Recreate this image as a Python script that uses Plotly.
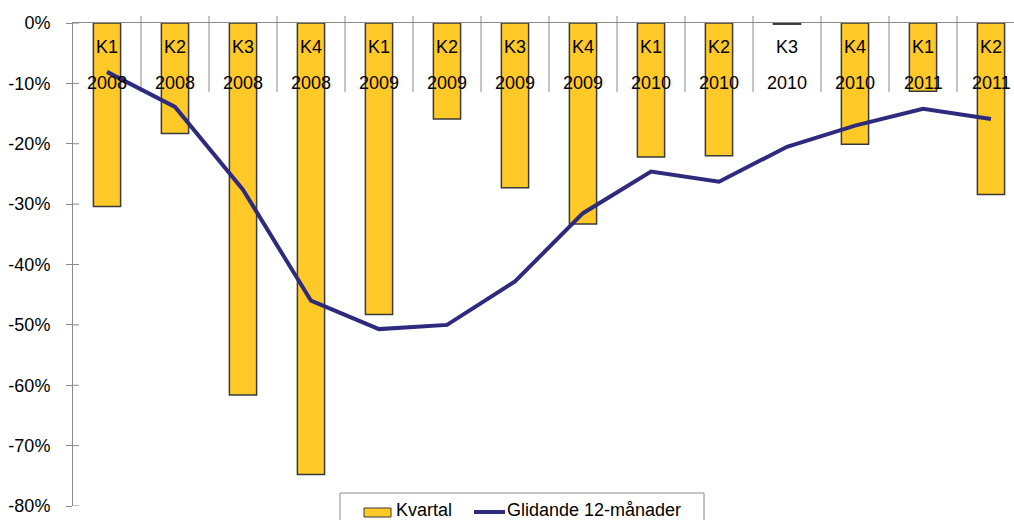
import plotly.graph_objects as go

quarters = ["K1", "K2", "K3", "K4", "K1", "K2", "K3", "K4", "K1", "K2", "K3", "K4", "K1", "K2"]
years = ["2008", "2008", "2008", "2008", "2009", "2009", "2009", "2009",
         "2010", "2010", "2010", "2010", "2011", "2011"]
kvartal = [-30.4, -18.3, -61.6, -74.8, -48.3, -15.9, -27.3, -33.3,
           -22.2, -22.0, -0.2, -20.1, -11.3, -28.4]
glidande = [-8.1, -13.9, -27.6, -46.0, -50.7, -50.0, -42.8, -31.5,
            -24.6, -26.3, -20.5, -17.0, -14.2, -15.9]
y_ticks = [0, -10, -20, -30, -40, -50, -60, -70, -80]
y_tick_labels = ["0%", "-10%", "-20%", "-30%", "-40%", "-50%", "-60%", "-70%", "-80%"]
series_names = ["Kvartal", "Glidande 12-månader"]

cats = [f"{q} {y}" for q, y in zip(quarters, years)]

W, H = 1014, 520
ML, MT, MB, MR = 73, 23, 14, 0
plot_h = H - MT - MB
plot_w = W - ML - MR
cat_px = 68.0
FONT = "Liberation Sans, Arial, sans-serif"
BAR_COLOR = "#FFCA28"
BAR_EDGE = "#3a3a3a"
LINE_COLOR = "#2E2A7E"
AXIS_COLOR = "#8a8a8a"


def py(px):
    return (H - MB - px) / plot_h


def px_(p):
    return (p - ML) / plot_w


fig = go.Figure()
fig.add_trace(go.Bar(
    x=cats, y=kvartal, name=series_names[0], width=0.4,
    marker=dict(color=BAR_COLOR, line=dict(color=BAR_EDGE, width=1.5)),
))
fig.add_trace(go.Scatter(
    x=cats, y=glidande, name=series_names[1], mode="lines",
    line=dict(color=LINE_COLOR, width=4),
))

shapes = []
# category boundary tick marks (cross the zero line)
for i in range(1, len(cats) + 1):
    shapes.append(dict(type="line", xref="x", yref="paper",
                       x0=i - 0.5, x1=i - 0.5, y0=py(16), y1=py(92),
                       line=dict(color=AXIS_COLOR, width=1), layer="below"))
# inside halves of the crossing y ticks
for v in y_ticks:
    shapes.append(dict(type="line", xref="paper", yref="y",
                       x0=0, x1=px_(79), y0=v, y1=v,
                       line=dict(color=AXIS_COLOR, width=1), layer="below"))

# custom legend
shapes.append(dict(type="rect", xref="paper", yref="paper",
                   x0=px_(340), x1=px_(704), y0=py(493), y1=py(540),
                   line=dict(color=AXIS_COLOR, width=1), fillcolor="white", layer="above"))
shapes.append(dict(type="rect", xref="paper", yref="paper",
                   x0=px_(364), x1=px_(391), y0=py(508), y1=py(517),
                   line=dict(color=BAR_EDGE, width=1), fillcolor=BAR_COLOR, layer="above"))
shapes.append(dict(type="line", xref="paper", yref="paper",
                   x0=px_(474), x1=px_(505), y0=py(512), y1=py(512),
                   line=dict(color=LINE_COLOR, width=4), layer="above"))

annotations = []
for i, (q, yr) in enumerate(zip(quarters, years)):
    annotations.append(dict(x=i, xref="x", y=1, yref="paper", text=q,
                            showarrow=False, yanchor="middle", yshift=-(46.5 - MT),
                            font=dict(family=FONT, size=18, color="#000000")))
    annotations.append(dict(x=i, xref="x", y=1, yref="paper", text=yr,
                            showarrow=False, yanchor="middle", yshift=-(82.5 - MT),
                            font=dict(family=FONT, size=18, color="#000000")))
annotations.append(dict(x=px_(394), xref="paper", y=py(510), yref="paper",
                        text=series_names[0], showarrow=False, xanchor="left",
                        yanchor="middle", font=dict(family=FONT, size=18, color="#000000")))
annotations.append(dict(x=px_(505), xref="paper", y=py(510), yref="paper",
                        text=series_names[1], showarrow=False, xanchor="left",
                        yanchor="middle", font=dict(family=FONT, size=18, color="#000000")))

fig.update_layout(
    width=W, height=H,
    margin=dict(l=ML, r=MR, t=MT, b=MB),
    paper_bgcolor="white", plot_bgcolor="white",
    font=dict(family=FONT, size=18, color="#000000"),
    showlegend=False,
    xaxis=dict(type="category", side="top", range=[-0.5, -0.5 + plot_w / cat_px],
               showticklabels=False, showgrid=False, ticks="",
               showline=True, linecolor=AXIS_COLOR, linewidth=1, zeroline=False),
    yaxis=dict(range=[-80, 0], tickvals=y_ticks, ticktext=y_tick_labels,
               ticks="outside", ticklen=6, tickcolor=AXIS_COLOR,
               showline=True, linecolor=AXIS_COLOR, linewidth=1,
               showgrid=False, zeroline=False, ticklabelstandoff=12,
               tickfont=dict(family=FONT, size=18, color="#000000")),
    shapes=shapes,
    annotations=annotations,
)

fig.write_html("out.html")
